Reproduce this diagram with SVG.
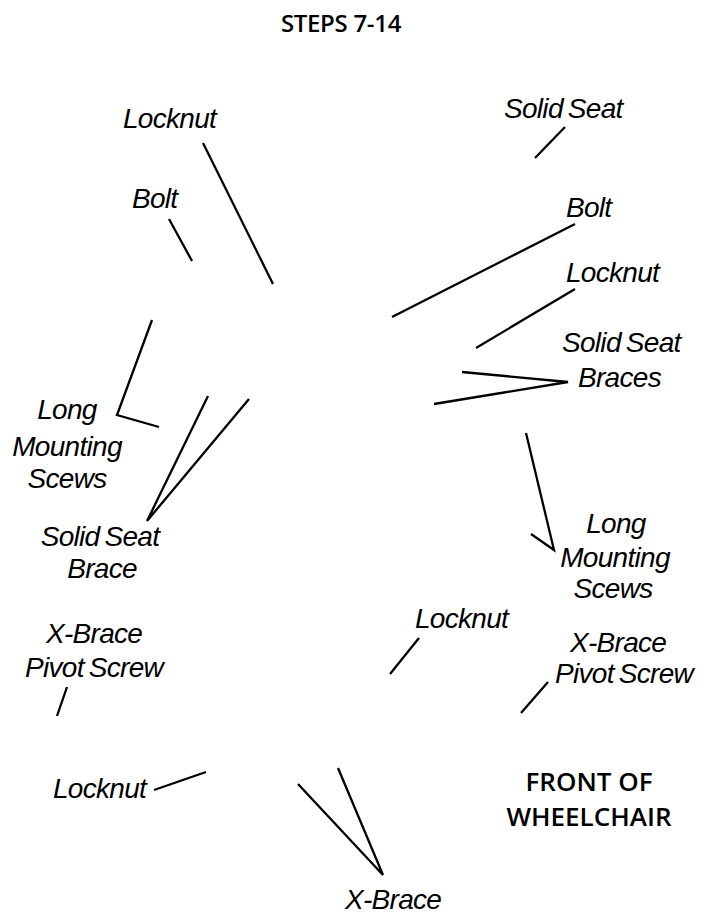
<svg xmlns="http://www.w3.org/2000/svg" width="713" height="915" viewBox="0 0 713 915">
<style>
.lbl{font-family:"Liberation Sans",Arial,sans-serif;font-style:italic;font-size:28px;letter-spacing:-0.7px;word-spacing:-2px;fill:#000}
.mid{text-anchor:middle}
.hdr{font-family:"Open Sans","Noto Sans",sans-serif;font-weight:600;fill:#000;text-anchor:middle}
.ln{stroke:#000;stroke-width:2.3;fill:none;stroke-linecap:butt;stroke-linejoin:miter}
</style>
<rect width="713" height="915" fill="#fff"/>
<g id="title"><text class="hdr" x="341" y="32" font-size="24" letter-spacing="-0.3">STEPS 7-14</text></g>
<g id="front"><text class="hdr" x="589" y="791" font-size="26">FRONT OF</text><text class="hdr" x="589" y="826" font-size="26">WHEELCHAIR</text></g>
<g id="locknut-tl"><text class="lbl" x="123" y="128">Locknut</text></g>
<g id="bolt-l"><text class="lbl" x="132" y="208">Bolt</text></g>
<g id="solidseat-tr"><text class="lbl" x="504" y="118">Solid Seat</text></g>
<g id="bolt-r"><text class="lbl" x="566" y="217">Bolt</text></g>
<g id="locknut-r"><text class="lbl" x="566" y="282">Locknut</text></g>
<g id="braces-r"><text class="lbl" x="562" y="352">Solid Seat</text><text class="lbl" x="578" y="387">Braces</text></g>
<g id="longmount-l"><text class="lbl mid" x="67" y="419">Long</text><text class="lbl mid" x="67" y="456">Mounting</text><text class="lbl mid" x="67" y="488">Scews</text></g>
<g id="brace-l"><text class="lbl mid" x="100" y="546">Solid Seat</text><text class="lbl mid" x="102" y="578">Brace</text></g>
<g id="longmount-r"><text class="lbl mid" x="616" y="533">Long</text><text class="lbl mid" x="615" y="567">Mounting</text><text class="lbl mid" x="613" y="598">Scews</text></g>
<g id="locknut-c"><text class="lbl" x="415" y="628">Locknut</text></g>
<g id="pivot-r"><text class="lbl" x="570" y="652">X-Brace</text><text class="lbl" x="555" y="683">Pivot Screw</text></g>
<g id="pivot-l"><text class="lbl" x="46" y="643">X-Brace</text><text class="lbl" x="25" y="677">Pivot Screw</text></g>
<g id="locknut-bl"><text class="lbl" x="53" y="798">Locknut</text></g>
<g id="xbrace-b"><text class="lbl" x="345" y="909">X-Brace</text></g>
<g id="connectors">
<line class="ln" x1="203" y1="143" x2="273" y2="284"/>
<line class="ln" x1="169" y1="219" x2="192" y2="261"/>
<line class="ln" x1="565" y1="127" x2="535" y2="158"/>
<line class="ln" x1="575" y1="224" x2="392" y2="317"/>
<line class="ln" x1="575" y1="289" x2="476" y2="348"/>
<polyline class="ln" points="462,372 568,382 434,404"/>
<polyline class="ln" points="152,320 117,415 159,427"/>
<polyline class="ln" points="208,396 147,521 249,399"/>
<polyline class="ln" points="526,433 554,550 531,534"/>
<line class="ln" x1="419" y1="638" x2="390" y2="674"/>
<line class="ln" x1="548" y1="682" x2="521" y2="713"/>
<line class="ln" x1="67" y1="687" x2="57" y2="716"/>
<line class="ln" x1="154" y1="790" x2="206" y2="772"/>
<polyline class="ln" points="298,784 383,875 338,768"/>
</g>
</svg>
